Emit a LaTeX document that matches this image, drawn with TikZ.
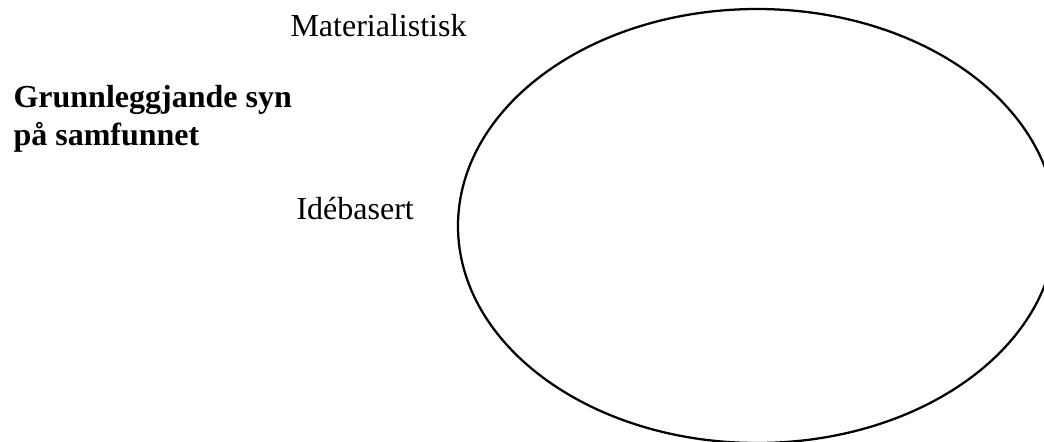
\documentclass[tikz,border=0pt]{standalone}
\usepackage{fontspec}
\setmainfont{Liberation Serif}
\usepackage{tikz}
\usetikzlibrary{positioning}
\tikzset{
    % Plain label
    labelnode/.style={
        inner sep=0pt,
        anchor=base west,
        font=\fontsize{12}{13.9}\selectfont
    },
    % Bold heading
    titlenode/.style={
        labelnode,
        align=left,
        font=\fontsize{12}{13.9}\selectfont\bfseries
    },
    % Ellipse outline
    ringline/.style={
        draw=black,
        line width=0.85pt
    }
}
\begin{document}
\begin{tikzpicture}[x=0.375pt, y=-0.375pt]
    \useasboundingbox (0,0) rectangle (1044,441);
    \clip (0,0) rectangle (1044,441);

    % Heading
    \node[titlenode] (heading) at (13,145) {Grunnleggjande syn\\på samfunnet};

    % Axis labels
    \node[labelnode] (mat) at (290,36) {Materialistisk};
    \node[labelnode] (ide) at (296,219) {Idébasert};

    % Ellipse
    \draw[ringline] (757,226) ellipse [x radius=299, y radius=217];
\end{tikzpicture}
\end{document}
